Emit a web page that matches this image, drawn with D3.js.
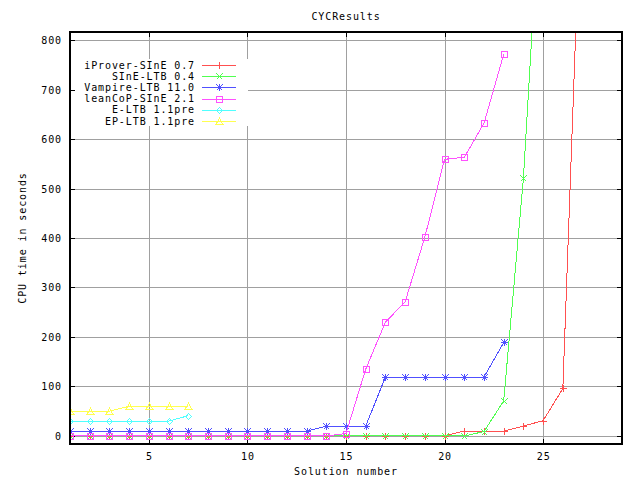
<!DOCTYPE html>
<html><head><meta charset="utf-8">
<script src="https://cdn.jsdelivr.net/npm/d3@7"></script>
<style>
body{margin:0;background:#fff}
text{font-family:"DejaVu Sans Mono",monospace;font-size:10px;letter-spacing:0.9px;fill:#000}
</style>
</head><body>
<svg id="c" width="640" height="480" shape-rendering="crispEdges"></svg>
<script>
// ---- data ----
const title = "CYCResults";
const xLabel = "Solution number";
const yLabel = "CPU time in seconds";
const xTicks = [5, 10, 15, 20, 25];
const yTicks = [0, 100, 200, 300, 400, 500, 600, 700, 800];

const seriesNames = ["iProver-SInE 0.7", "SInE-LTB 0.4", "Vampire-LTB 11.0", "leanCoP-SInE 2.1", "E-LTB 1.1pre", "EP-LTB 1.1pre"];
const seriesColors = ["#ff5050", "#50ff50", "#5050ff", "#ff50ff", "#50ffff", "#ffff50"];
const seriesMarkers = ["plus", "cross", "star", "box", "diamond", "triangle"];

// values for solution numbers 1, 2, 3, ...
const iProverSInE = [0,0,0,0,0,0,0,0,0,0,0,0,0,0,0,0,0,0,0,0,10,10,10,20,31,96,1200];
const sineLTB     = [0,0,0,0,0,0,0,0,0,0,0,0,0,0,0,0,0,0,0,0,0,9,71,521,1200];
const vampireLTB  = [10,10,10,10,10,10,10,10,10,10,10,10,10,20,20,20,119,119,119,119,119,119,189];
const leanCoPSInE = [0,0,0,0,0,0,0,0,0,0,0,0,0,0,5,135,230,271,402,559,563,632,771];
const eLTB        = [30,30,30,30,30,30,41];
const epLTB       = [50,50,50,60,60,60,60];
const seriesValues = [iProverSInE, sineLTB, vampireLTB, leanCoPSInE, eLTB, epLTB];

// ---- layout ----
const L = 70, R = 622, T = 32, B = 444;
const svg = d3.select("#c");
const x = d3.scaleLinear().domain([1, 29]).range([L, R]);
const y = d3.scaleLinear().domain([-16.2, 816.2]).range([B, T]);

svg.append("defs").append("clipPath").attr("id", "clip")
  .append("rect").attr("x", L).attr("y", T).attr("width", R - L).attr("height", B - T);

const crisp = v => Math.round(v) + 0.5;

// grid
const grid = svg.append("g").attr("stroke", "#a0a0a0").attr("stroke-width", 1);
xTicks.forEach(t => grid.append("line").attr("x1", crisp(x(t))).attr("x2", crisp(x(t))).attr("y1", T).attr("y2", B));
yTicks.forEach(t => grid.append("line").attr("x1", L).attr("x2", R).attr("y1", crisp(y(t))).attr("y2", crisp(y(t))));

// legend background
svg.append("rect").attr("x", 72).attr("y", 59).attr("width", 176).attr("height", 67).attr("fill", "#fff");

// axes (ticks + labels) using d3 axes
const tickLen = 5;
const axB = svg.append("g").attr("transform", `translate(0,${B})`)
  .call(d3.axisBottom(x).tickValues(xTicks).tickSizeInner(-tickLen).tickSizeOuter(0).tickPadding(12).tickFormat(d3.format("d")));
const axT = svg.append("g").attr("transform", `translate(0,${T})`)
  .call(d3.axisTop(x).tickValues(xTicks).tickSizeInner(-tickLen).tickSizeOuter(0).tickFormat(""));
const axLft = svg.append("g").attr("transform", `translate(${L},0)`)
  .call(d3.axisLeft(y).tickValues(yTicks).tickSizeInner(-tickLen).tickSizeOuter(0).tickPadding(12).tickFormat(d3.format("d")));
const axRgt = svg.append("g").attr("transform", `translate(${R},0)`)
  .call(d3.axisRight(y).tickValues(yTicks).tickSizeInner(-tickLen).tickSizeOuter(0).tickFormat(""));
[axB, axT, axLft, axRgt].forEach(a => {
  a.select(".domain").remove();
  a.selectAll("line").attr("stroke", "#000");
  a.selectAll("text").attr("font-family", null).attr("font-size", null).attr("fill", "#000");
});
axB.selectAll("text").attr("dy", "0.71em").attr("y", 9);
axLft.selectAll("text").attr("x", -8).attr("dy", "0.35em");

// marker paths
const s = 3;
const markerPath = {
  plus: `M${-s-0.5},0H${s+0.5}M0,${-s-0.5}V${s+0.5}`,
  cross: `M${-s},${-s}L${s},${s}M${-s},${s}L${s},${-s}`,
  star: `M${-s-0.5},0H${s+0.5}M0,${-s-0.5}V${s+0.5}M${-s},${-s}L${s},${s}M${-s},${s}L${s},${-s}`,
  box: `M${-s},${-s}H${s}V${s}H${-s}Z`,
  diamond: `M0,${-s}L${s},0L0,${s}L${-s},0Z`,
  triangle: `M0,${-s-0.5}L${s+0.5},${s}H${-s-0.5}Z`
};

// series
const plot = svg.append("g").attr("clip-path", "url(#clip)");
const line = d3.line().x((d, i) => x(i + 1)).y(d => y(d));
seriesValues.forEach((vals, k) => {
  const g = plot.append("g");
  g.append("path").attr("d", line(vals)).attr("fill", "none")
    .attr("stroke", seriesColors[k]).attr("stroke-width", 1);
  g.selectAll("path.m").data(vals).join("path").attr("class", "m")
    .attr("transform", (d, i) => `translate(${crisp(x(i + 1))},${crisp(y(d))})`)
    .attr("d", markerPath[seriesMarkers[k]])
    .attr("fill", "none").attr("stroke", seriesColors[k]).attr("stroke-width", 1);
});

// border
svg.append("rect").attr("x", L).attr("y", T).attr("width", R - L).attr("height", B - T)
  .attr("fill", "none").attr("stroke", "#000").attr("stroke-width", 1.6);

// legend
const leg = svg.append("g");
seriesNames.forEach((name, k) => {
  const ly = 65 + k * 11.2;
  leg.append("text").attr("x", 195).attr("y", ly).attr("dy", "0.35em").attr("text-anchor", "end").text(name);
  leg.append("line").attr("x1", 202).attr("x2", 236).attr("y1", crisp(ly)).attr("y2", crisp(ly))
    .attr("stroke", seriesColors[k]).attr("stroke-width", 1);
  leg.append("path").attr("transform", `translate(219.5,${crisp(ly)})`).attr("d", markerPath[seriesMarkers[k]])
    .attr("fill", "none").attr("stroke", seriesColors[k]).attr("stroke-width", 1);
});

// titles
svg.append("text").attr("x", (L + R) / 2).attr("y", 20).attr("text-anchor", "middle").text(title);
svg.append("text").attr("x", (L + R) / 2).attr("y", 475).attr("text-anchor", "middle").text(xLabel);
svg.append("text").attr("transform", `translate(26,${(T + B) / 2}) rotate(-90)`).attr("text-anchor", "middle").text(yLabel);
</script>
</body></html>
